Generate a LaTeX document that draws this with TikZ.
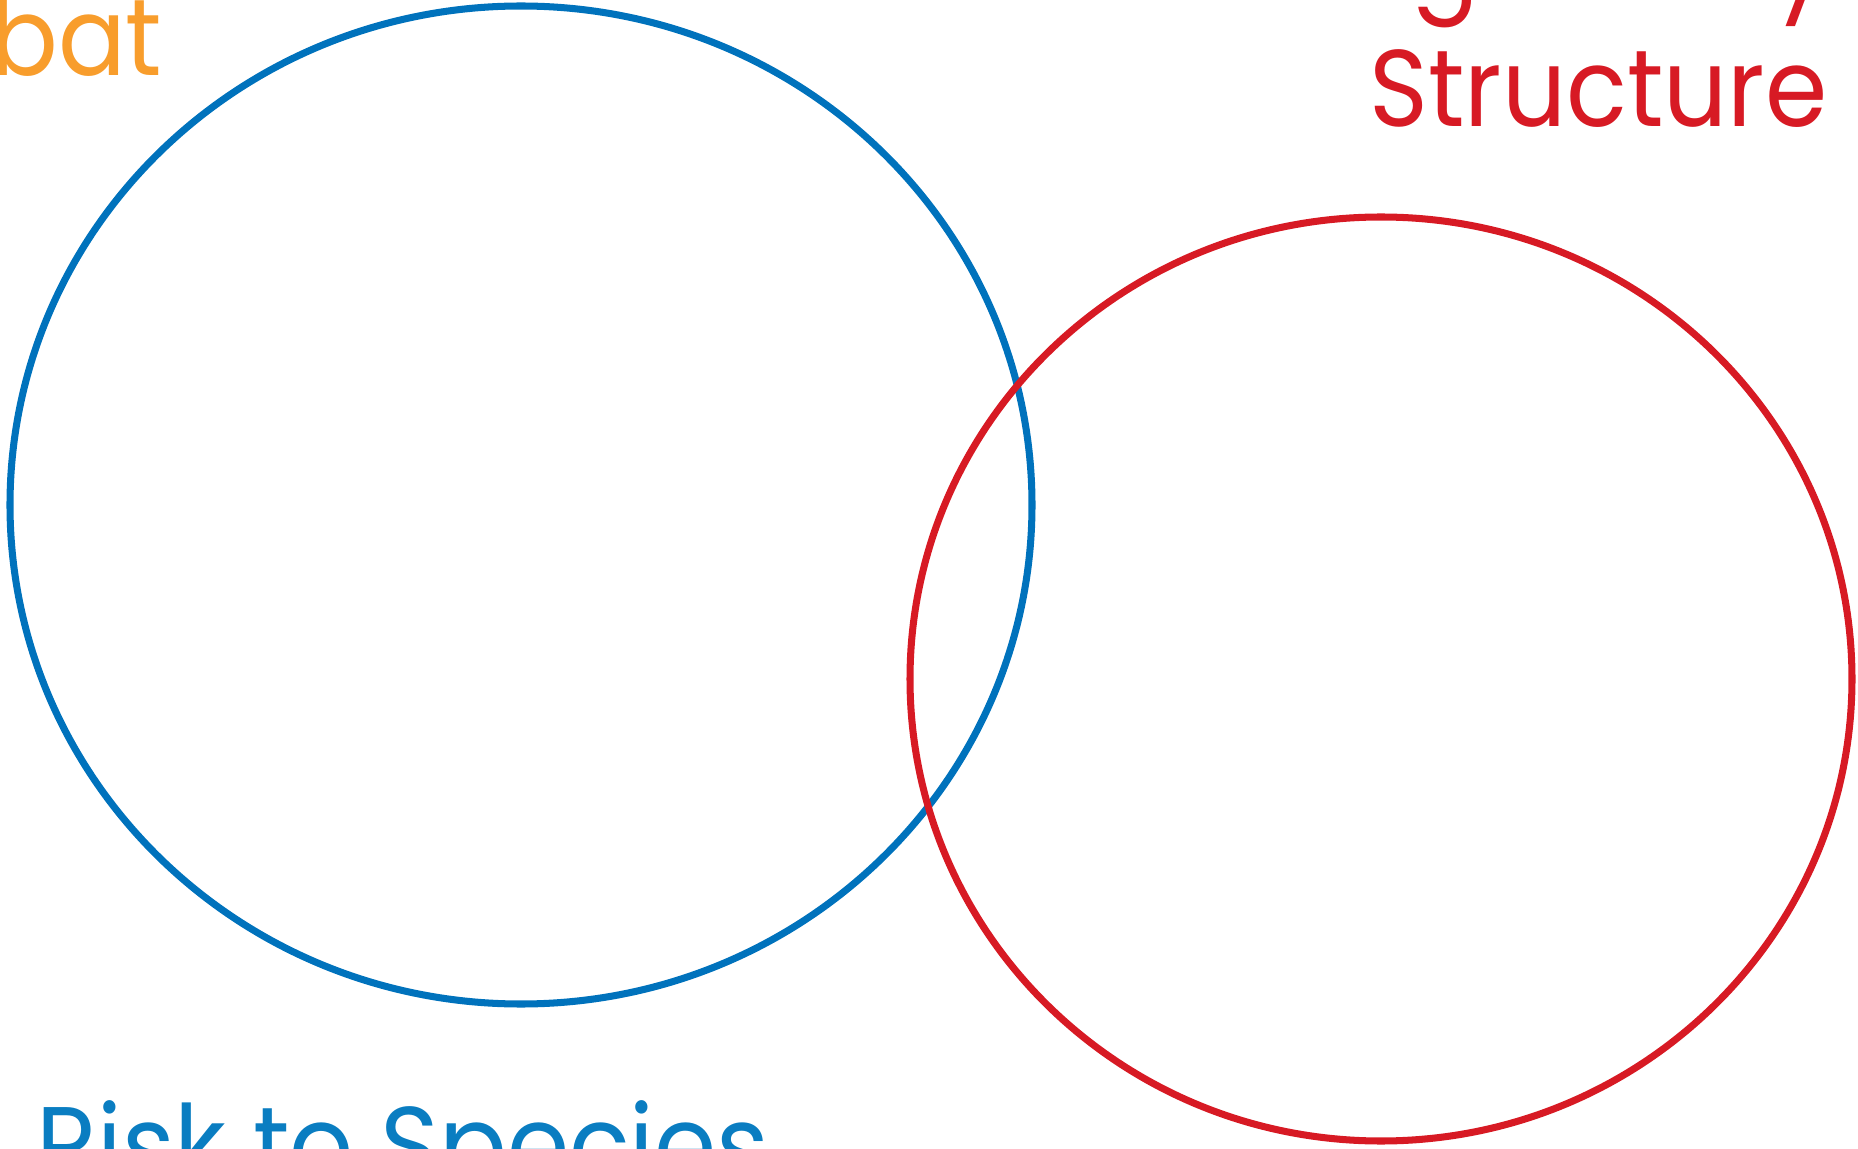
\documentclass[tikz,border=0pt]{standalone}
\usepackage{fontspec}
\setmainfont[FakeStretch=0.92]{Poppins}
\definecolor{setblue}{RGB}{0,114,188}
\definecolor{setred}{RGB}{215,26,36}
\definecolor{setorange}{RGB}{248,157,44}
\definecolor{labblue}{RGB}{10,125,193}
\tikzset{
  setline/.style = {line width=2pt},
  lab/.style     = {inner sep=0pt, font=\fontsize{31}{36}\selectfont}
}
\begin{document}
\begin{tikzpicture}
  \useasboundingbox (0,0) rectangle (18.58,11.48);
  \clip (0,0) rectangle (18.58,11.48);

  \draw[setline, setblue] (5.21,6.43) ellipse [x radius=5.11, y radius=4.99];
  \draw[setline, setred] (13.81,4.69) ellipse [x radius=4.71, y radius=4.62];

  \node[lab, text=setorange, anchor=base east] (habitat) at (1.63,10.72) {bat};
  \node[lab, text=setred, anchor=base east] (regul) at (18.31,11.49) {Regulatory};
  \node[lab, text=setred, anchor=base east] (struct) at (18.28,10.21) {Structure};
  \node[lab, text=labblue, anchor=base west] (risk) at (0.36,-0.35) {Risk to Species};
\end{tikzpicture}
\end{document}
